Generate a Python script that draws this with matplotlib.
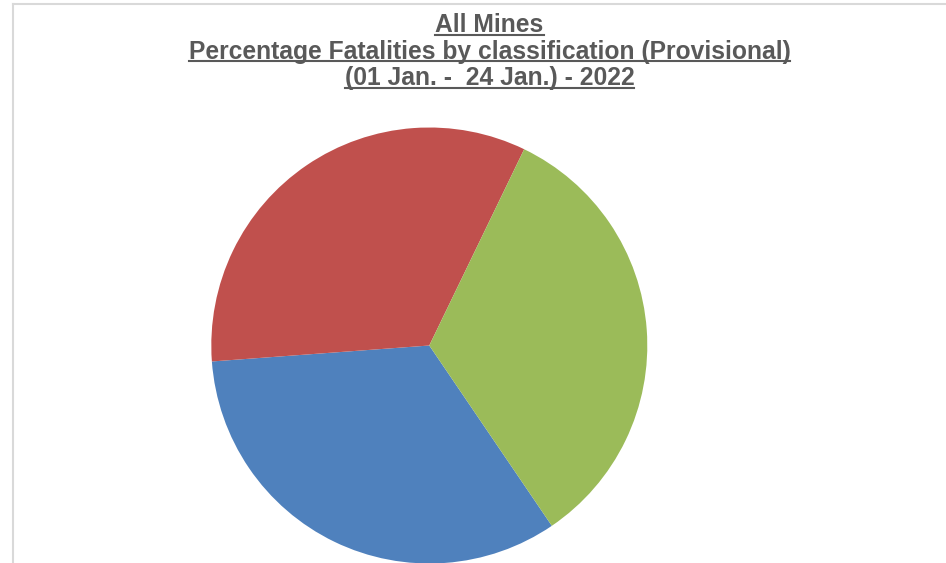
"""
All Mines - percentage fatalities by classification pie
"""
import matplotlib
matplotlib.use("Agg")
import matplotlib.pyplot as plt
from matplotlib.lines import Line2D

plt.rcParams['font.family'] = ['Liberation Sans', 'DejaVu Sans']

# three equal classifications (no legend shown in the original)
categories = ["Classification 1", "Classification 2", "Classification 3"]
values = [1, 1, 1]
colours = ["#4F81BD", "#C0504D", "#9BBB59"]

title_lines = ["All Mines",
               "Percentage Fatalities by classification (Provisional)",
               "(01 Jan. -  24 Jan.) - 2022"]

W, H = 946, 563
fig = plt.figure(figsize=(W / 100, H / 100), dpi=100)

# light grey chart-area border (top and left visible)
fig.add_artist(Line2D([13 / W, 1], [1 - 4 / H, 1 - 4 / H], color="#d9d9d9", lw=1.5))
fig.add_artist(Line2D([13 / W, 13 / W], [0, 1 - 4 / H], color="#d9d9d9", lw=1.5))

# pie axes: centre (429, 346) px, radius 218 px
cx, cy, r = 429.3, 345.5, 218
ax = fig.add_axes([(cx - r) / W, (H - cy - r) / H, 2 * r / W, 2 * r / H])
ax.pie(values, colors=colours, startangle=-55.8, counterclock=False,
       radius=1, wedgeprops=dict(linewidth=0))
ax.set_xlim(-1, 1)
ax.set_ylim(-1, 1)
ax.set_aspect('equal')
ax.axis('off')

# underlined title, one line at a time (baselines in px from top)
title_col = "#595959"
baselines = [32, 58.5, 85]
texts = []
for line, y in zip(title_lines, baselines):
    t = fig.text(489.5 / W, 1 - y / H, line, ha='center', va='baseline',
                 fontsize=17.7, fontweight='bold', color=title_col)
    texts.append(t)

fig.canvas.draw()
renderer = fig.canvas.get_renderer()
for t, y in zip(texts, baselines):
    bb = t.get_window_extent(renderer)
    yline = H - (y + 2.5)
    fig.add_artist(Line2D([bb.x0 / W, bb.x1 / W], [yline / H, yline / H],
                          color=title_col, lw=1.5))

fig.savefig("out.png", dpi=100)
